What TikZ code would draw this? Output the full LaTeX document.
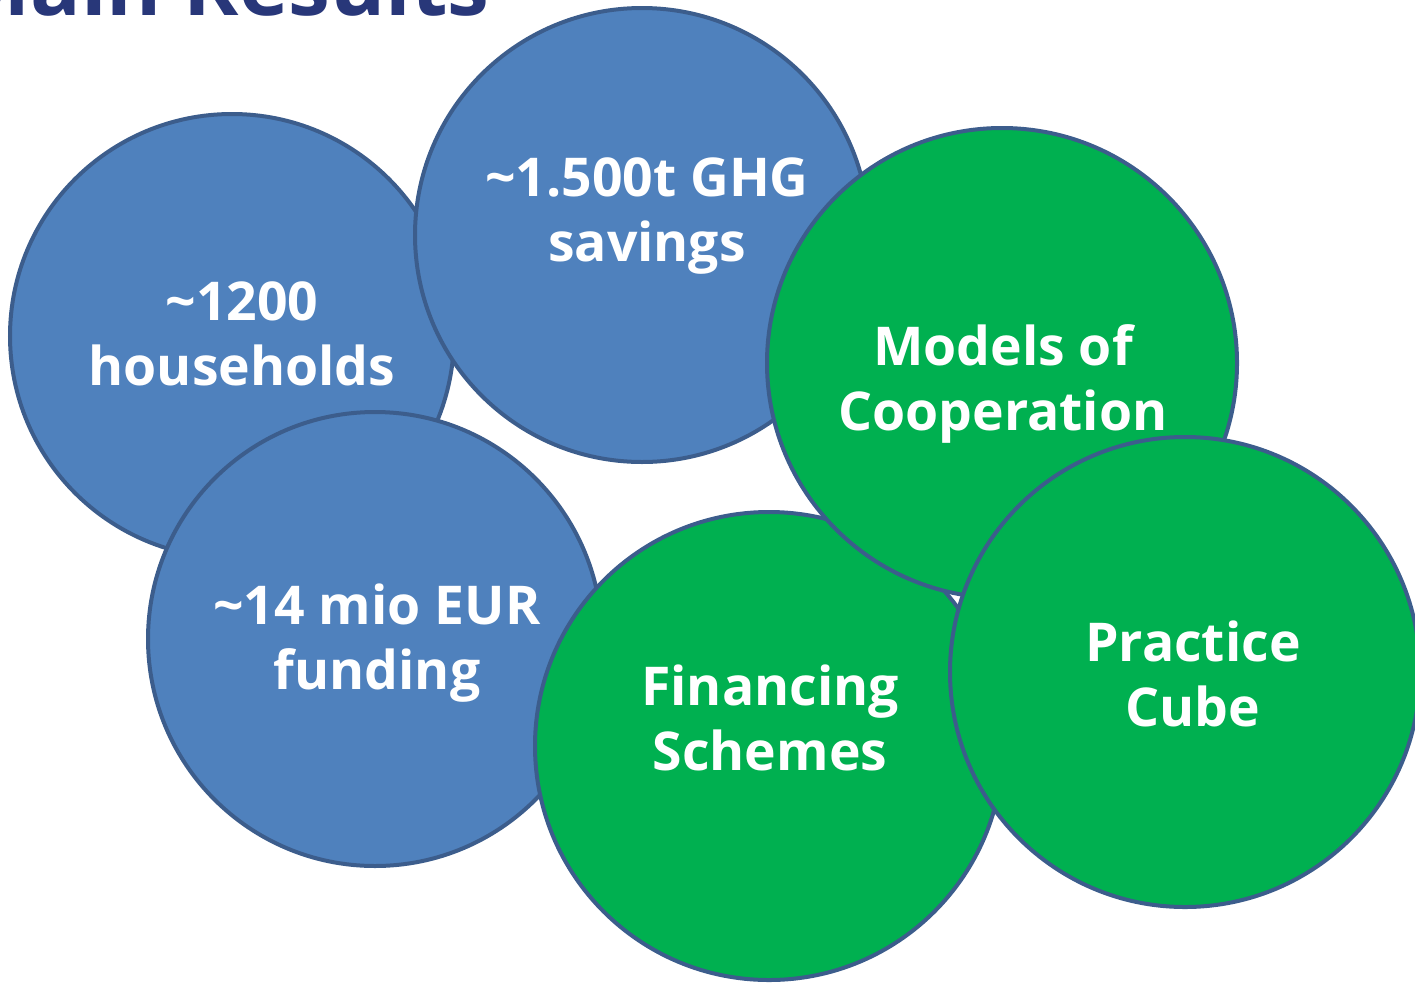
\documentclass[tikz,border=0pt]{standalone}
\usepackage{fontspec}
\setmainfont{Open Sans}
\definecolor{bluefill}{HTML}{4F81BD}
\definecolor{edgeblue}{HTML}{3C5D8C}
\definecolor{greenfill}{HTML}{00B050}
\definecolor{titleblue}{HTML}{283779}
\begin{document}
\begin{tikzpicture}[x=1pt,y=-1pt,
  bubble/.style={circle, draw=edgeblue, line width=4pt, minimum size=#1, inner sep=0pt},
  bluebub/.style={bubble=#1, fill=bluefill},
  greenbub/.style={bubble=#1, fill=greenfill},
  label/.style={text=white, font=\fontsize{53.5}{64.5}\selectfont\bfseries, align=center, inner sep=0pt}]
\useasboundingbox (0,0) rectangle (1415,983);
\begin{scope}
\clip (0,0) rectangle (1415,983);
\node[anchor=base east, text=titleblue, font=\fontsize{84}{90}\selectfont\bfseries, inner sep=0pt] (title) at (490,15) {Main Results};
\node[bluebub=444pt] (hh) at (232,336) {};
\node[bluebub=454pt] (ghg) at (642,235) {};
\node[bluebub=454pt] (fund) at (375,639) {};
\node[greenbub=468pt] (fin) at (769,746) {};
\node[greenbub=470pt] (mod) at (1002,363) {};
\node[greenbub=470pt] (prac) at (1185,672) {};
\end{scope}
\node[label] (hht) at (242,334) {\textasciitilde1200\\households};
\node[label] (ghgt) at (647,216) {\textasciitilde1.500t GHG\\savings};
\node[label] (fundt) at (377,643) {\textasciitilde14 mio EUR\\funding};
\node[label] (modt) at (1003,384) {Models of\\Cooperation};
\node[label] (fint) at (770,718) {Financing\\Schemes};
\node[label] (pract) at (1193,674) {Practice\\Cube};
\end{tikzpicture}
\end{document}
